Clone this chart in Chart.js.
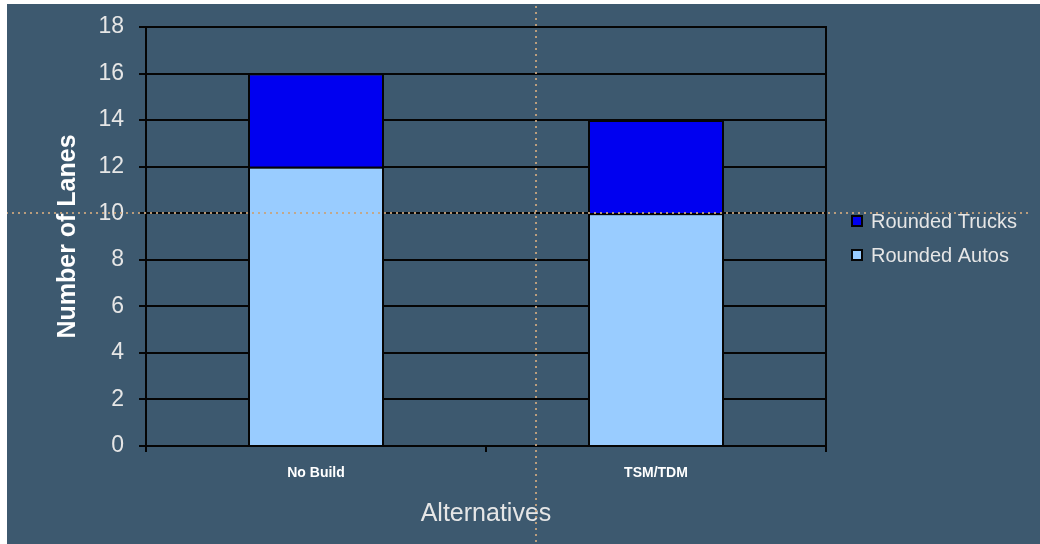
<!DOCTYPE html>
<html>
<head>
<meta charset="utf-8">
<script src="https://cdn.jsdelivr.net/npm/chart.js@4.4.1/dist/chart.umd.min.js"></script>
<style>
  html, body { margin: 0; padding: 0; background: #ffffff; width: 1040px; height: 544px; overflow: hidden; }
  #wrap { position: absolute; left: 7px; top: 4px; width: 1033px; height: 540px; background: #3d596f; }
  canvas { display: block; }
</style>
</head>
<body>
<div id="wrap"><canvas id="lanes" width="1033" height="540"></canvas></div>
<script>
// Lane counts per alternative
const categories = ['No Build', 'TSM/TDM'];
const roundedAutos = [12, 10];
const roundedTrucks = [4, 4];
const seriesNames = ['Rounded Autos', 'Rounded Trucks'];
const seriesColors = ['#99ccff', '#0000f0'];

// Value axis
const yMin = 0;
const yMax = 18;
const yStep = 2;
const guideValue = 10;

const TEXT = '#e6e6e6';
const LINE = '#050505';

// Side legend drawn to the right of the plot, trucks listed first
const sideLegend = {
  id: 'sideLegend',
  afterDraw(chart, args, opts) {
    const ctx = chart.ctx;
    const items = chart.data.datasets.map(d => ({ label: d.label, color: d.backgroundColor })).reverse();
    ctx.save();
    ctx.font = opts.font;
    ctx.textBaseline = 'middle';
    ctx.textAlign = 'left';
    items.forEach((it, i) => {
      const cy = opts.top + i * opts.spacing;
      const s = opts.box;
      ctx.fillStyle = LINE;
      ctx.fillRect(opts.left, cy - s / 2, s, s);
      ctx.fillStyle = it.color;
      ctx.fillRect(opts.left + 2, cy - s / 2 + 2, s - 4, s - 4);
      ctx.fillStyle = TEXT;
      ctx.fillText(it.label, opts.left + s + opts.gap, cy + 1);
    });
    ctx.restore();
  }
};

// Dotted guide lines crossing the whole picture
const guides = {
  id: 'guides',
  afterDraw(chart, args, opts) {
    const ctx = chart.ctx;
    const y = Math.round(chart.scales.y.getPixelForValue(opts.value));
    ctx.save();
    ctx.strokeStyle = 'rgba(200,164,126,0.9)';
    ctx.lineWidth = 2;
    ctx.setLineDash([2, 4]);
    ctx.beginPath();
    ctx.moveTo(-7, y);
    ctx.lineTo(opts.hEnd, y);
    ctx.stroke();
    ctx.beginPath();
    ctx.moveTo(opts.x, -4);
    ctx.lineTo(opts.x, chart.height);
    ctx.stroke();
    ctx.restore();
  }
};

// Keep the scales from reserving extra room for overhanging labels
function noOverhang(scale) {
  scale.paddingTop = 0;
  scale.paddingBottom = 0;
  scale.paddingLeft = 0;
  scale.paddingRight = 0;
}

new Chart(document.getElementById('lanes'), {
  type: 'bar',
  data: {
    labels: categories,
    datasets: [
      { label: seriesNames[0], data: roundedAutos, backgroundColor: seriesColors[0] },
      { label: seriesNames[1], data: roundedTrucks, backgroundColor: seriesColors[1] }
    ]
  },
  options: {
    responsive: false,
    animation: false,
    devicePixelRatio: 1,
    layout: { padding: { top: 23, right: 214, bottom: 0, left: 0 } },
    datasets: {
      bar: {
        categoryPercentage: 1.0,
        barPercentage: 0.4,
        borderColor: LINE,
        borderWidth: 2,
        borderSkipped: 'start'
      }
    },
    plugins: {
      legend: { display: false },
      tooltip: { enabled: false },
      sideLegend: { left: 844, top: 217, spacing: 34, box: 12, gap: 8, font: '20px "Liberation Sans", Arial, sans-serif' },
      guides: { value: guideValue, x: 529, hEnd: 1023 }
    },
    scales: {
      x: {
        stacked: true,
        afterFit(scale) { scale.height = 98; noOverhang(scale); },
        border: { display: false },
        grid: { display: true, offset: true, drawOnChartArea: false, drawTicks: true, tickLength: 6, color: LINE, lineWidth: 2 },
        ticks: { color: '#ffffff', padding: 13, font: { family: '"Liberation Sans", Arial, sans-serif', size: 14, weight: 'bold' } },
        title: {
          display: true, text: 'Alternatives', color: TEXT,
          font: { family: '"Liberation Sans", Arial, sans-serif', size: 25 },
          padding: { top: 0, bottom: 15 }
        }
      },
      y: {
        stacked: true,
        min: yMin, max: yMax,
        afterFit(scale) { scale.width = 139; noOverhang(scale); },
        border: { display: true, color: LINE, width: 2 },
        grid: { color: LINE, lineWidth: 2, tickLength: 7, drawTicks: true },
        ticks: {
          stepSize: yStep, color: TEXT, padding: 15,
          font: { family: '"Liberation Sans", Arial, sans-serif', size: 23 }
        },
        title: {
          display: true, text: 'Number of Lanes', color: '#ffffff',
          font: { family: '"Liberation Sans", Arial, sans-serif', size: 25, weight: 'bold' },
          padding: { top: 46, bottom: 0 }
        }
      },
      yRight: {
        position: 'right',
        min: yMin, max: yMax,
        afterFit(scale) { scale.width = 0; noOverhang(scale); },
        border: { display: true, color: LINE, width: 2 },
        grid: { display: false },
        ticks: { display: false }
      }
    }
  },
  plugins: [sideLegend, guides]
});
</script>
</body>
</html>
